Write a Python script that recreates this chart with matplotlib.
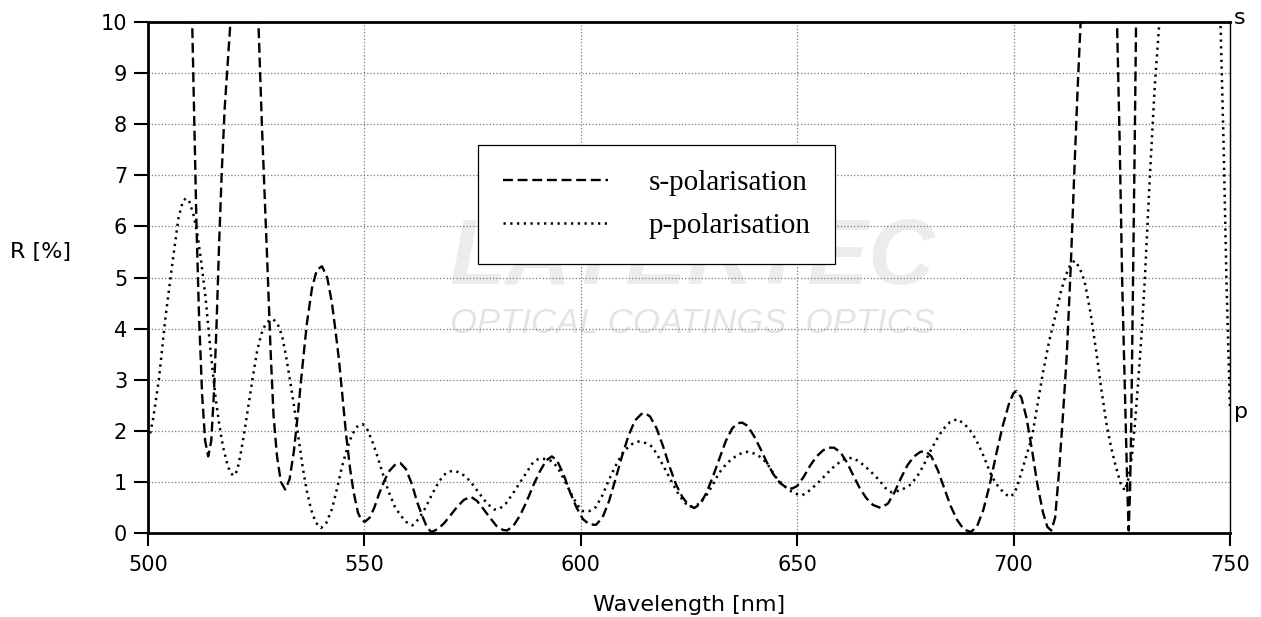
import matplotlib
matplotlib.use('Agg')
import matplotlib.pyplot as plt

# s-polarisation (values above 10 run off the top)
s_wl = [508.0, 509.0, 510.2, 510.7, 511.2, 511.8, 512.5, 513.2, 513.9, 514.6, 515.2, 515.8, 516.4,
        517.0, 517.7, 518.5, 519.2, 520.0, 521.5, 523.0, 524.5, 525.5, 526.3, 527.0, 527.6, 528.3,
        529.0, 529.8, 530.7, 531.7, 532.7, 533.7, 534.7, 535.6, 536.7, 537.9, 539.0, 540.2, 541.4,
        542.5, 543.4, 544.1, 545.0, 545.8, 546.7, 547.5, 548.5, 549.3, 550.1, 551.2, 552.3, 553.3,
        554.5, 555.6, 557.0, 558.3, 559.6, 561.0, 562.2, 563.3, 564.5, 565.5, 567.0, 568.5, 570.0,
        571.5, 573.0, 574.6, 576.0, 577.5, 579.0, 580.5, 582.0, 583.0, 584.5, 586.0, 587.5, 589.0,
        590.5, 592.0, 593.3, 594.5, 596.0, 597.5, 599.0, 600.5, 602.0, 603.5, 605.0, 606.5, 608.0,
        609.5, 611.0, 612.5, 614.0, 614.8, 616.0, 617.5, 619.0, 620.5, 622.0, 623.5, 625.0, 626.2,
        627.5, 629.0, 630.5, 632.0, 633.5, 635.0, 636.3, 637.3, 638.5, 640.0, 641.5, 643.0, 644.5,
        646.0, 647.5, 648.8, 650.0, 651.5, 653.0, 654.5, 656.0, 657.3, 658.5, 660.0, 661.5, 663.0,
        664.5, 666.0, 667.5, 669.3, 671.0, 672.5, 674.0, 675.5, 677.0, 678.5, 679.7, 681.0, 682.5,
        684.0, 685.5, 687.0, 688.5, 690.1, 691.5, 693.0, 694.5, 696.0, 697.5, 699.0, 700.0, 700.7,
        701.8, 703.0, 704.3, 705.5, 706.8, 707.8, 708.7, 709.6, 710.5, 711.4, 712.3, 713.2, 714.0,
        714.8, 715.6, 717.0, 719.0, 721.0, 722.5, 723.9, 724.5, 725.1, 725.9, 726.3, 726.6, 726.9,
        727.2, 727.6, 728.0, 728.3, 729.0, 730.0]
s_r = [17.0, 13.5, 10.0, 8.0, 6.0, 4.2, 2.7, 1.8, 1.5, 1.8, 2.7, 4.0, 5.6,
       7.0, 8.3, 9.3, 10.2, 12.0, 15.0, 15.0, 12.0, 10.0, 8.0, 6.5, 5.2, 3.6,
       2.3, 1.5, 1.0, 0.85, 1.05, 1.6, 2.4, 3.2, 4.1, 4.8, 5.15, 5.22, 5.0,
       4.5, 3.9, 3.4, 2.6, 1.9, 1.25, 0.8, 0.4, 0.25, 0.22, 0.3, 0.5, 0.75,
       1.0, 1.2, 1.33, 1.37, 1.25, 0.95, 0.6, 0.35, 0.1, 0.02, 0.08, 0.2, 0.36,
       0.52, 0.65, 0.71, 0.63, 0.47, 0.3, 0.14, 0.06, 0.05, 0.15, 0.35, 0.62, 0.93,
       1.2, 1.42, 1.5, 1.42, 1.15, 0.8, 0.5, 0.27, 0.17, 0.16, 0.3, 0.62, 1.05,
       1.5, 1.9, 2.2, 2.33, 2.35, 2.28, 2.05, 1.7, 1.3, 0.95, 0.7, 0.54, 0.49,
       0.56, 0.78, 1.1, 1.45, 1.8, 2.05, 2.15, 2.16, 2.1, 1.9, 1.65, 1.38, 1.15,
       0.98, 0.89, 0.87, 0.92, 1.1, 1.32, 1.5, 1.62, 1.67, 1.67, 1.58, 1.38, 1.12,
       0.87, 0.68, 0.55, 0.49, 0.58, 0.8, 1.08, 1.33, 1.5, 1.59, 1.6, 1.5, 1.23,
       0.87, 0.52, 0.25, 0.07, 0.02, 0.12, 0.45, 0.95, 1.55, 2.1, 2.55, 2.74, 2.78,
       2.65, 2.25, 1.6, 0.95, 0.4, 0.12, 0.05, 0.3, 1.2, 2.3, 3.5, 5.2, 7.0,
       8.7, 10.2, 13.0, 15.0, 14.0, 12.0, 10.0, 7.7, 4.9, 2.2, 0.8, 0.05, 0.8,
       2.2, 4.9, 7.7, 10.0, 13.0, 16.0]

# p-polarisation
p_wl = [500.5, 501.2, 502.5, 504.0, 505.5, 507.0, 508.0, 508.7, 509.5, 510.6, 511.5, 512.3, 513.3,
        514.4, 515.6, 516.5, 517.3, 518.3, 519.0, 519.8, 520.6, 521.4, 522.3, 523.3, 524.3, 525.2,
        526.2, 527.1, 528.0, 529.0, 530.0, 531.0, 531.8, 532.5, 533.7, 534.8, 535.8, 536.7, 537.7,
        538.8, 540.0, 541.2, 542.5, 543.7, 544.8, 546.0, 547.1, 548.3, 549.6, 550.7, 551.8, 553.0,
        554.1, 555.5, 557.0, 558.3, 559.6, 561.1, 562.6, 564.2, 565.4, 566.5, 567.7, 568.8, 570.0,
        570.8, 572.0, 573.5, 575.0, 576.6, 578.3, 580.0, 581.3, 582.7, 584.2, 585.8, 587.3, 588.8,
        590.0, 590.8, 592.2, 593.5, 594.7, 595.8, 597.0, 598.1, 599.3, 600.4, 602.0, 603.5, 605.0,
        606.5, 608.0, 609.6, 611.5, 613.3, 615.0, 616.5, 618.0, 619.6, 621.2, 622.7, 624.2, 625.8,
        627.3, 628.8, 630.4, 631.9, 633.5, 635.0, 636.8, 638.5, 640.3, 642.0, 643.5, 645.0, 646.5,
        648.1, 649.6, 651.2, 653.0, 655.0, 656.5, 658.1, 659.7, 661.2, 662.8, 664.3, 665.9, 667.5,
        669.0, 670.4, 671.7, 673.8, 675.9, 677.0, 678.2, 679.4, 680.5, 682.0, 683.6, 685.3, 687.0,
        688.8, 690.5, 691.7, 692.8, 693.9, 695.0, 696.3, 697.5, 698.5, 699.4, 700.4, 701.3, 702.1,
        702.9, 703.7, 704.4, 705.5, 706.7, 708.2, 709.8, 711.0, 712.1, 713.1, 714.1, 715.2, 716.4,
        717.8, 719.1, 720.3, 721.4, 722.6, 723.7, 724.7, 725.7, 726.5, 727.3, 728.0, 728.7, 729.5,
        730.3, 731.5, 732.6, 733.6, 735.0, 738.0, 741.0, 744.0, 746.5, 747.8, 748.5, 749.2, 750.0]
p_r = [1.95, 2.25, 3.0, 4.2, 5.2, 6.15, 6.48, 6.55, 6.5, 6.2, 5.8, 5.3, 4.6,
       3.6, 2.65, 2.1, 1.7, 1.35, 1.18, 1.12, 1.22, 1.55, 2.0, 2.55, 3.1, 3.56,
       3.9, 4.08, 4.16, 4.18, 4.08, 3.85, 3.5, 3.15, 2.5, 1.84, 1.25, 0.82, 0.45,
       0.2, 0.1, 0.2, 0.47, 0.88, 1.3, 1.65, 1.92, 2.08, 2.13, 2.02, 1.8, 1.5,
       1.2, 0.83, 0.52, 0.35, 0.22, 0.15, 0.28, 0.51, 0.72, 0.9, 1.06, 1.17, 1.21,
       1.22, 1.18, 1.1, 0.95, 0.77, 0.58, 0.46, 0.48, 0.58, 0.76, 0.97, 1.17, 1.36,
       1.44, 1.46, 1.44, 1.4, 1.27, 1.1, 0.9, 0.71, 0.54, 0.43, 0.43, 0.51, 0.74,
       1.04, 1.31, 1.56, 1.73, 1.79, 1.76, 1.69, 1.48, 1.23, 0.97, 0.74, 0.58, 0.51,
       0.57, 0.71, 0.93, 1.17, 1.34, 1.46, 1.55, 1.59, 1.55, 1.46, 1.3, 1.1, 0.96,
       0.84, 0.77, 0.74, 0.84, 1.0, 1.13, 1.27, 1.38, 1.46, 1.47, 1.4, 1.29, 1.16,
       1.03, 0.88, 0.8, 0.83, 0.93, 1.03, 1.17, 1.36, 1.56, 1.8, 2.02, 2.17, 2.23,
       2.12, 1.95, 1.76, 1.56, 1.33, 1.1, 0.93, 0.81, 0.74, 0.71, 0.82, 1.04, 1.27,
       1.5, 1.72, 1.95, 2.5, 3.1, 3.75, 4.3, 4.75, 5.05, 5.25, 5.33, 5.2, 4.93,
       4.3, 3.55, 2.8, 2.17, 1.65, 1.28, 0.98, 0.83, 1.05, 1.48, 2.1, 2.86, 3.8,
       4.93, 7.0, 8.72, 9.9, 12.5, 16.0, 17.5, 16.0, 12.5, 10.0, 7.7, 4.9, 2.45]

x_ticks = [500, 550, 600, 650, 700, 750]
y_ticks = list(range(0, 11))

plt.rcParams['font.family'] = ['DejaVu Sans']

fig = plt.figure(figsize=(12.61, 6.17), dpi=100)
ax = fig.add_axes([0.1174, 0.1361, 0.8580, 0.8282])

# faint watermark behind everything
ax.text(0.503, 0.535, 'LAYERTEC', transform=ax.transAxes, ha='center', va='center',
        fontsize=66, fontweight='bold', fontstyle='italic', family='Liberation Sans',
        color='#ececec', zorder=0)
ax.text(0.503, 0.41, 'OPTICAL COATINGS  OPTICS', transform=ax.transAxes, ha='center',
        va='center', fontsize=25, fontstyle='italic', family='Liberation Sans',
        color='#e4e4e4', zorder=0)

ax.plot(s_wl, s_r, color='black', lw=1.7, ls=(0, (4.2, 2.0)), label='s-polarisation', zorder=3)
ax.plot(p_wl, p_r, color='black', lw=1.8, ls=(0, (0.9, 1.8)), label='p-polarisation', zorder=3)

ax.set_xlim(500, 750)
ax.set_ylim(0, 10)
ax.set_xticks(x_ticks)
ax.set_yticks(y_ticks)
ax.grid(True, color='#7a7a7a', ls=':', lw=0.9)
ax.set_axisbelow(True)

for side in ['left', 'top', 'bottom']:
    ax.spines[side].set_linewidth(2)
ax.spines['right'].set_linewidth(1)

ax.tick_params(axis='x', direction='out', length=9, width=1.5, pad=7, labelsize=15)
ax.tick_params(axis='y', direction='out', length=10, width=1.5, pad=5, labelsize=15)

ax.set_xlabel('Wavelength [nm]', fontsize=16)
ax.xaxis.set_label_coords(0.5, -0.141)
ax.xaxis.label.set_va('center')
ax.set_ylabel('R [%]', fontsize=16, rotation=0, ha='left', va='center')
ax.yaxis.set_label_coords(-0.1275, 0.55)

ax.text(1.004, 1.008, 's', transform=ax.transAxes, ha='left', va='center', fontsize=16)
ax.text(1.004, 0.237, 'p', transform=ax.transAxes, ha='left', va='center', fontsize=16)

leg = ax.legend(loc='upper left', bbox_to_anchor=(0.305, 0.759), borderaxespad=0,
                prop={'family': 'Liberation Serif', 'size': 21}, fancybox=False,
                framealpha=1, edgecolor='black', handlelength=3.6, handletextpad=1.4,
                borderpad=0.85, labelspacing=0.55)
leg.get_frame().set_linewidth(0.9)
leg.set_zorder(5)

fig.savefig('out.png', dpi=100)
